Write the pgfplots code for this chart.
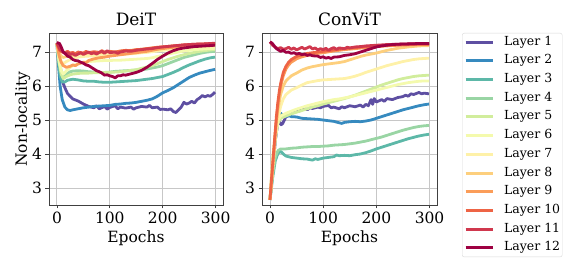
\documentclass[border=0pt]{standalone}
\usepackage{pgfplots}
\pgfplotsset{compat=1.18}
\usepackage{fontspec}
\setmainfont{DejaVu Serif}
\definecolor{c1}{HTML}{5E4FA2}
\definecolor{c2}{HTML}{368ABF}
\definecolor{c3}{HTML}{5DB8A8}
\definecolor{c4}{HTML}{99D5A4}
\definecolor{c5}{HTML}{D1ED9C}
\definecolor{c6}{HTML}{F4FAAD}
\definecolor{c7}{HTML}{FEF1A8}
\definecolor{c8}{HTML}{FDCF7D}
\definecolor{c9}{HTML}{FB9D59}
\definecolor{c10}{HTML}{EE6445}
\definecolor{c11}{HTML}{D0384E}
\definecolor{c12}{HTML}{9E0142}
\pgfplotsset{
  myax/.style={
    scale only axis, height=172pt,
    xmin=-15, xmax=314, ymin=2.5, ymax=7.56,
    xtick={0,100,200,300}, ytick={3,4,5,6,7},
    grid=major, major grid style={draw=black!22, line width=0.9pt},
    axis line style={draw=black!75, line width=0.9pt},
    tick style={draw=black!75, line width=0.8pt},
    tick align=outside, major tick length=3.5pt,
    xtick pos=bottom, ytick pos=left,
    /pgf/number format/assume math mode=true,
    ticklabel style={font=\fontsize{15.5}{17}\selectfont},
    label style={font=\fontsize{15.5}{17}\selectfont},
    title style={font=\fontsize{17}{19}\selectfont, yshift=-2pt},
    every axis plot/.append style={line width=2.8pt, line join=round, no markers},
  }
}
\begin{document}
\begin{tikzpicture}[x=1pt,y=1pt]
\path[use as bounding box] (0,0) rectangle (581,259);
% ---------------- DeiT
\begin{axis}[myax, at={(49pt,54pt)}, anchor=south west, width=174pt,
  title={DeiT}, xlabel={Epochs}, ylabel={Non-locality}, ylabel style={yshift=-5pt}]
\addplot[c1] coordinates {(0,7.25)(3,7.0)(6,6.5)(10,6.15)(15,5.95)(20,5.78)(25,5.7)(30,5.62)(40,5.56)(50,5.47)(60,5.4)(70,5.36)(75,5.42)(80,5.33)(90,5.4)(95,5.32)(100,5.37)(110,5.42)(115,5.33)(120,5.38)(130,5.35)(140,5.38)(145,5.32)(150,5.36)(160,5.4)(170,5.38)(175,5.43)(180,5.36)(190,5.38)(195,5.31)(200,5.32)(210,5.3)(215,5.33)(220,5.25)(225,5.22)(230,5.3)(235,5.38)(240,5.52)(245,5.47)(250,5.5)(255,5.55)(260,5.5)(265,5.6)(270,5.65)(275,5.72)(280,5.68)(285,5.72)(290,5.7)(295,5.76)(299,5.82)};
\addplot[c2] coordinates {(0,7.25)(3,6.6)(6,6.0)(10,5.6)(15,5.38)(20,5.3)(25,5.28)(30,5.3)(40,5.33)(50,5.36)(60,5.38)(70,5.4)(80,5.41)(90,5.42)(100,5.43)(110,5.46)(120,5.47)(130,5.49)(140,5.5)(150,5.52)(160,5.55)(170,5.58)(180,5.62)(190,5.7)(200,5.8)(210,5.87)(220,5.95)(230,6.05)(240,6.15)(250,6.25)(260,6.32)(270,6.38)(280,6.42)(290,6.46)(299,6.49)};
\addplot[c3] coordinates {(0,7.25)(3,6.7)(6,6.3)(10,6.12)(15,6.12)(20,6.17)(30,6.2)(40,6.18)(50,6.15)(60,6.14)(70,6.14)(80,6.12)(90,6.11)(100,6.11)(110,6.12)(120,6.13)(130,6.14)(140,6.15)(150,6.16)(160,6.18)(170,6.2)(180,6.22)(190,6.25)(200,6.28)(210,6.34)(220,6.4)(230,6.47)(240,6.55)(250,6.62)(260,6.68)(270,6.74)(280,6.79)(290,6.83)(299,6.85)};
\addplot[c4] coordinates {(0,7.25)(4,6.8)(8,6.45)(12,6.3)(18,6.35)(25,6.42)(30,6.44)(40,6.45)(50,6.44)(60,6.42)(70,6.41)(80,6.4)(90,6.4)(100,6.41)(110,6.43)(120,6.44)(130,6.45)(140,6.46)(150,6.47)(160,6.48)(170,6.5)(180,6.53)(190,6.56)(200,6.6)(210,6.66)(220,6.72)(230,6.78)(240,6.84)(250,6.88)(260,6.92)(270,6.96)(280,6.99)(290,7.01)(299,7.02)};
\addplot[c5] coordinates {(0,7.25)(4,6.7)(8,6.35)(12,6.22)(18,6.28)(25,6.33)(30,6.35)(40,6.37)(50,6.38)(60,6.38)(70,6.39)(80,6.39)(90,6.4)(100,6.4)(110,6.41)(120,6.42)(130,6.44)(140,6.46)(150,6.48)(160,6.52)(170,6.56)(180,6.6)(190,6.66)(200,6.72)(210,6.78)(220,6.83)(230,6.88)(240,6.92)(250,6.96)(260,6.99)(270,7.02)(280,7.04)(290,7.06)(299,7.07)};
\addplot[c6] coordinates {(0,7.25)(4,6.75)(8,6.45)(12,6.35)(18,6.45)(25,6.55)(30,6.6)(40,6.65)(50,6.7)(60,6.72)(70,6.73)(80,6.74)(90,6.75)(100,6.75)(110,6.76)(120,6.76)(130,6.77)(140,6.78)(150,6.79)(160,6.8)(170,6.81)(180,6.83)(190,6.87)(200,6.9)(210,6.94)(220,6.97)(230,7.0)(240,7.03)(250,7.05)(260,7.07)(270,7.08)(280,7.09)(290,7.1)(299,7.11)};
\addplot[c7] coordinates {(0,7.25)(4,6.9)(8,6.72)(12,6.66)(18,6.72)(25,6.78)(30,6.82)(40,6.85)(50,6.87)(60,6.88)(70,6.89)(80,6.9)(90,6.9)(100,6.91)(110,6.92)(120,6.93)(130,6.94)(140,6.95)(150,6.96)(160,6.98)(170,6.99)(180,7.01)(190,7.03)(200,7.05)(220,7.09)(240,7.12)(260,7.14)(280,7.15)(299,7.16)};
\addplot[c8] coordinates {(0,7.25)(4,6.98)(8,6.88)(12,6.84)(20,6.88)(25,6.92)(30,6.9)(40,6.95)(50,6.94)(60,6.97)(70,6.96)(80,6.99)(90,6.98)(100,7.01)(110,7.0)(120,7.03)(130,7.04)(140,7.05)(150,7.07)(160,7.08)(170,7.1)(180,7.12)(190,7.14)(200,7.15)(220,7.18)(240,7.2)(260,7.22)(280,7.23)(299,7.24)};
\addplot[c9] coordinates {(0,7.25)(4,6.9)(8,6.7)(12,6.6)(18,6.55)(25,6.58)(30,6.62)(35,6.6)(40,6.65)(50,6.7)(55,6.68)(60,6.75)(70,6.8)(80,6.83)(90,6.85)(100,6.88)(110,6.9)(120,6.92)(130,6.94)(140,6.96)(150,6.98)(160,7.0)(170,7.02)(180,7.05)(190,7.08)(200,7.1)(220,7.14)(240,7.17)(260,7.19)(280,7.2)(299,7.21)};
\addplot[c10] coordinates {(0,7.25)(5,7.05)(10,7.0)(15,6.98)(20,7.02)(25,6.97)(30,6.99)(35,6.95)(40,7.0)(50,6.97)(55,7.02)(60,6.98)(70,7.01)(80,6.99)(85,7.04)(90,7.0)(100,7.02)(110,7.0)(120,7.03)(130,7.05)(140,7.04)(150,7.07)(160,7.08)(170,7.1)(180,7.12)(190,7.14)(200,7.15)(220,7.18)(240,7.21)(260,7.23)(280,7.24)(299,7.25)};
\addplot[c11] coordinates {(0,7.28)(5,7.1)(10,7.02)(15,6.96)(20,6.98)(25,6.93)(30,6.95)(35,6.9)(40,6.94)(45,6.98)(50,6.93)(55,6.97)(60,7.0)(65,6.95)(70,6.98)(75,6.94)(80,6.99)(85,7.02)(90,6.96)(95,7.04)(100,6.98)(110,7.0)(115,6.96)(120,7.0)(130,7.03)(140,7.02)(150,7.05)(160,7.07)(170,7.09)(180,7.1)(190,7.13)(200,7.15)(220,7.18)(240,7.21)(260,7.23)(280,7.24)(299,7.26)};
\addplot[c12] coordinates {(0,7.28)(5,7.25)(8,7.15)(12,7.0)(16,6.95)(20,6.88)(25,6.85)(30,6.78)(35,6.75)(40,6.74)(45,6.7)(50,6.67)(55,6.62)(60,6.6)(65,6.55)(70,6.5)(75,6.45)(80,6.42)(85,6.38)(90,6.32)(95,6.33)(100,6.3)(105,6.28)(110,6.24)(115,6.3)(120,6.3)(125,6.33)(130,6.32)(140,6.36)(150,6.4)(160,6.46)(170,6.55)(180,6.66)(190,6.78)(200,6.88)(210,6.97)(220,7.04)(230,7.09)(240,7.12)(250,7.14)(260,7.16)(270,7.17)(280,7.18)(290,7.19)(299,7.2)};
\end{axis}
% ---------------- ConViT
\begin{axis}[myax, at={(262pt,54pt)}, anchor=south west, width=175pt,
  title={ConViT}, xlabel={Epochs},
  legend style={at={(1.143,1)}, anchor=north west, draw=black!15, rounded corners=2pt,
    font=\fontsize{12.5}{14}\selectfont, inner xsep=2pt, inner ysep=3pt,
    nodes={inner sep=0pt, text height=9pt, text depth=3pt}, row sep=6.7pt},
  legend cell align=left,
  legend image code/.code={\draw[#1, line width=3pt] (0pt,0pt) -- (27pt,0pt); \path (37pt,0pt);}]
\addplot[c1] coordinates {(0,2.65)(5,3.5)(10,4.4)(14,4.85)(18,4.95)(21,4.86)(24,4.9)(27,5.0)(30,5.1)(35,5.12)(40,5.18)(45,5.24)(50,5.3)(55,5.26)(60,5.32)(65,5.35)(70,5.3)(75,5.36)(80,5.34)(90,5.38)(95,5.36)(100,5.4)(110,5.43)(115,5.36)(120,5.38)(130,5.33)(135,5.39)(140,5.36)(150,5.42)(160,5.39)(170,5.44)(175,5.38)(180,5.46)(185,5.42)(190,5.6)(193,5.46)(196,5.63)(200,5.53)(210,5.6)(215,5.55)(220,5.63)(230,5.6)(240,5.66)(250,5.69)(255,5.73)(260,5.7)(265,5.77)(270,5.75)(280,5.81)(285,5.77)(290,5.79)(299,5.77)};
\addlegendentry{Layer 1}
\addplot[c2] coordinates {(0,2.65)(5,3.5)(10,4.4)(15,5.0)(20,5.2)(25,5.12)(30,5.1)(35,5.14)(40,5.1)(50,5.09)(60,5.05)(70,5.04)(80,5.03)(90,5.02)(100,5.0)(110,4.98)(120,4.96)(130,4.92)(135,4.9)(140,4.93)(150,4.95)(160,4.96)(170,4.95)(180,4.97)(190,5.0)(200,5.05)(210,5.1)(220,5.15)(230,5.2)(240,5.25)(250,5.3)(260,5.34)(270,5.38)(280,5.42)(290,5.45)(299,5.47)};
\addlegendentry{Layer 2}
\addplot[c3] coordinates {(0,2.65)(5,3.3)(10,3.8)(15,4.02)(20,4.08)(25,4.0)(30,3.94)(40,3.9)(50,3.88)(60,3.86)(70,3.85)(80,3.82)(85,3.86)(90,3.84)(100,3.88)(110,3.9)(120,3.92)(125,3.97)(130,3.95)(140,3.96)(150,3.95)(160,3.98)(170,4.0)(180,4.04)(190,4.09)(200,4.15)(210,4.2)(220,4.25)(230,4.3)(240,4.35)(250,4.4)(260,4.45)(270,4.49)(280,4.53)(290,4.56)(299,4.58)};
\addlegendentry{Layer 3}
\addplot[c4] coordinates {(0,2.65)(5,3.4)(10,3.9)(15,4.1)(20,4.15)(30,4.15)(40,4.17)(50,4.18)(60,4.2)(70,4.21)(80,4.22)(90,4.22)(100,4.23)(110,4.24)(120,4.26)(130,4.27)(140,4.28)(150,4.3)(160,4.32)(170,4.35)(180,4.38)(190,4.42)(200,4.46)(210,4.5)(220,4.55)(230,4.6)(240,4.65)(250,4.7)(260,4.74)(270,4.78)(280,4.81)(290,4.83)(299,4.84)};
\addlegendentry{Layer 4}
\addplot[c5] coordinates {(0,2.65)(5,3.8)(10,4.5)(15,4.9)(20,5.05)(30,5.12)(40,5.18)(50,5.23)(60,5.28)(70,5.33)(80,5.38)(90,5.42)(100,5.47)(110,5.51)(120,5.55)(130,5.59)(140,5.63)(150,5.68)(160,5.73)(170,5.79)(180,5.85)(190,5.91)(200,5.97)(210,6.03)(220,6.08)(230,6.13)(240,6.18)(250,6.22)(260,6.25)(270,6.28)(280,6.3)(290,6.31)(299,6.32)};
\addlegendentry{Layer 5}
\addplot[c6] coordinates {(0,2.65)(5,3.9)(10,4.6)(15,5.0)(20,5.12)(30,5.2)(40,5.26)(50,5.32)(60,5.37)(70,5.42)(80,5.46)(90,5.5)(100,5.54)(110,5.57)(120,5.6)(130,5.62)(140,5.65)(150,5.68)(160,5.72)(170,5.76)(180,5.8)(190,5.84)(200,5.88)(210,5.92)(220,5.96)(230,6.0)(240,6.04)(250,6.07)(260,6.1)(270,6.12)(280,6.14)(290,6.15)(299,6.15)};
\addlegendentry{Layer 6}
\addplot[c7] coordinates {(0,2.65)(5,3.5)(10,4.4)(15,5.0)(20,5.4)(25,5.62)(30,5.75)(40,5.88)(50,5.95)(60,6.03)(70,6.1)(80,6.13)(90,6.16)(100,6.18)(110,6.19)(120,6.2)(130,6.21)(140,6.22)(150,6.25)(160,6.29)(170,6.34)(180,6.4)(190,6.45)(200,6.5)(210,6.55)(220,6.6)(230,6.64)(240,6.68)(250,6.72)(260,6.75)(270,6.78)(280,6.8)(290,6.81)(299,6.82)};
\addlegendentry{Layer 7}
\addplot[c8] coordinates {(0,2.65)(5,3.6)(10,4.6)(15,5.3)(20,5.75)(25,6.0)(30,6.15)(40,6.3)(50,6.38)(60,6.47)(70,6.53)(80,6.57)(90,6.6)(100,6.63)(110,6.65)(120,6.67)(130,6.69)(140,6.72)(150,6.77)(160,6.82)(170,6.87)(180,6.91)(190,6.94)(200,6.97)(220,7.05)(240,7.11)(260,7.15)(280,7.18)(299,7.19)};
\addlegendentry{Layer 8}
\addplot[c9] coordinates {(0,2.65)(3,3.2)(6,3.8)(9,4.4)(12,5.0)(15,5.45)(18,5.8)(21,6.05)(25,6.3)(30,6.5)(35,6.62)(40,6.7)(50,6.8)(60,6.86)(70,6.9)(80,6.93)(90,6.96)(100,6.98)(120,7.03)(140,7.07)(160,7.1)(180,7.13)(200,7.16)(220,7.18)(240,7.2)(260,7.21)(280,7.22)(299,7.22)};
\addlegendentry{Layer 9}
\addplot[c10] coordinates {(0,2.65)(3,3.3)(6,3.9)(9,4.5)(12,5.1)(15,5.55)(18,5.9)(21,6.15)(25,6.4)(30,6.58)(35,6.7)(40,6.78)(50,6.87)(60,6.92)(70,6.96)(80,6.98)(90,7.0)(100,7.02)(120,7.06)(140,7.1)(160,7.13)(180,7.16)(200,7.18)(220,7.2)(240,7.21)(260,7.22)(280,7.23)(299,7.23)};
\addlegendentry{Layer 10}
\addplot[c11] coordinates {(0,7.3)(5,7.2)(10,7.14)(15,7.1)(20,7.13)(25,7.08)(30,7.1)(35,7.14)(40,7.08)(45,7.12)(50,7.06)(55,7.1)(60,7.14)(65,7.09)(70,7.12)(75,7.16)(80,7.09)(85,7.12)(90,7.06)(95,7.1)(100,7.07)(105,7.11)(110,7.05)(115,7.1)(120,7.13)(125,7.08)(130,7.12)(140,7.1)(145,7.14)(150,7.12)(160,7.15)(170,7.16)(180,7.18)(190,7.19)(200,7.2)(220,7.22)(240,7.23)(260,7.24)(280,7.25)(299,7.25)};
\addlegendentry{Layer 11}
\addplot[c12] coordinates {(0,7.3)(4,7.26)(8,7.18)(12,7.1)(16,7.06)(20,7.02)(25,7.05)(30,6.99)(35,7.0)(40,6.96)(45,6.98)(50,6.94)(55,6.96)(60,6.92)(65,6.94)(70,6.9)(75,6.92)(80,6.89)(90,6.88)(95,6.84)(100,6.86)(105,6.82)(110,6.84)(115,6.81)(120,6.85)(130,6.86)(140,6.9)(150,6.92)(160,6.95)(170,7.0)(180,7.05)(190,7.1)(200,7.15)(210,7.18)(220,7.2)(230,7.22)(240,7.23)(260,7.24)(280,7.25)(299,7.25)};
\addlegendentry{Layer 12}
\end{axis}
\end{tikzpicture}
\end{document}
